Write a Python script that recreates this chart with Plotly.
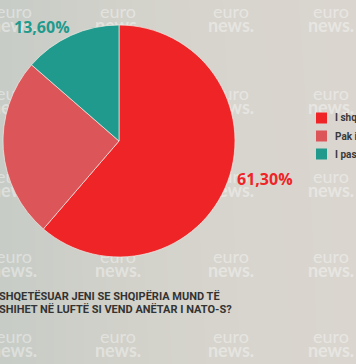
import plotly.graph_objects as go

# Survey answers and their shares (%)
categories = ["I shqetësuar", "Pak i shqetësuar", "I pashqetësuar"]
shares = [61.3, 25.1, 13.6]
colors = ["#ee2427", "#dc5558", "#1f9a8c"]
question = ["SHQETËSUAR JENI SE SHQIPËRIA MUND TË",
            "SHIHET NË LUFTË SI VEND ANËTAR I NATO-S?"]

W, H = 356, 364

fig = go.Figure()

# Soft studio backdrop: greyish-green on the left fading to warm beige on the right
fig.add_trace(go.Heatmap(
    x=[0, 120, 240, W], y=[0, H], z=[[0, 0.55, 0.9, 1], [0, 0.5, 0.85, 1]],
    zsmooth="best", showscale=False, hoverinfo="skip",
    colorscale=[[0, "#c7ccc6"], [0.5, "#d1d1ca"], [1, "#dad6cf"]],
))

# Background watermark grid (hidden cartesian layer, under the pie)
wm_cols = [14, 118, 231, 331]
wm_rows = [13, 95, 178, 258, 338]
wx, wy, wt = [], [], []
for r in wm_rows:
    for c in wm_cols:
        wx += [c, c]
        wy += [r, r + 14]
        wt += ["euro", "<b>news.</b>"]
fig.add_trace(go.Scatter(
    x=wx, y=wy, text=wt, mode="text", hoverinfo="skip", showlegend=False,
    textfont=dict(family="Lato", size=18, color="rgba(255,255,255,0.4)"),
))

fig.add_trace(go.Pie(
    labels=categories, values=shares, sort=False, direction="clockwise",
    rotation=0, marker=dict(colors=colors, line=dict(color="rgba(240,235,230,0.7)", width=1)),
    textinfo="none", hoverinfo="label+percent", showlegend=False,
    domain=dict(x=[3 / W, 235 / W], y=[1 - 257 / H, 1 - 25 / H]),
))

fig.update_xaxes(range=[0, W], visible=False, fixedrange=True)
fig.update_yaxes(range=[H, 0], visible=False, fixedrange=True)


def pct(v):
    return f"{v:.2f}".replace(".", ",") + "%"


def label(x, y, text, font, xanchor="center"):
    fig.add_annotation(x=x / W, y=1 - y / H, xref="paper", yref="paper",
                       xanchor=xanchor, yanchor="middle", text=text,
                       showarrow=False, font=font)


# Value labels
label(42, 27, f"<b>{pct(shares[2])}</b>",
      dict(family="Open Sans", size=16, color=colors[2]))
label(265, 179, f"<b>{pct(shares[0])}</b>",
      dict(family="Open Sans", size=16, color=colors[0]))

# Legend
leg_y = [118, 136, 154]
for cat, col, yy in zip(categories, colors, leg_y):
    fig.add_shape(type="rect", xref="paper", yref="paper",
                  x0=316 / W, x1=327 / W, y0=1 - (yy + 5.5) / H, y1=1 - (yy - 5.5) / H,
                  fillcolor=col, line=dict(width=0))
    label(333, yy, f"<b>{cat}</b>",
          dict(family="Roboto", size=10, color="#3a3a3a"), xanchor="left")

# Question text
for line, yy in zip(question, [296, 308.5]):
    label(-3, yy, f"<b>{line}</b>",
          dict(family="Roboto", size=11, color="#333333"), xanchor="left")

fig.update_layout(
    width=W, height=H, margin=dict(l=0, r=0, t=0, b=0),
    paper_bgcolor="#d4d3cc", plot_bgcolor="rgba(0,0,0,0)",
)

fig.write_html("out.html")
